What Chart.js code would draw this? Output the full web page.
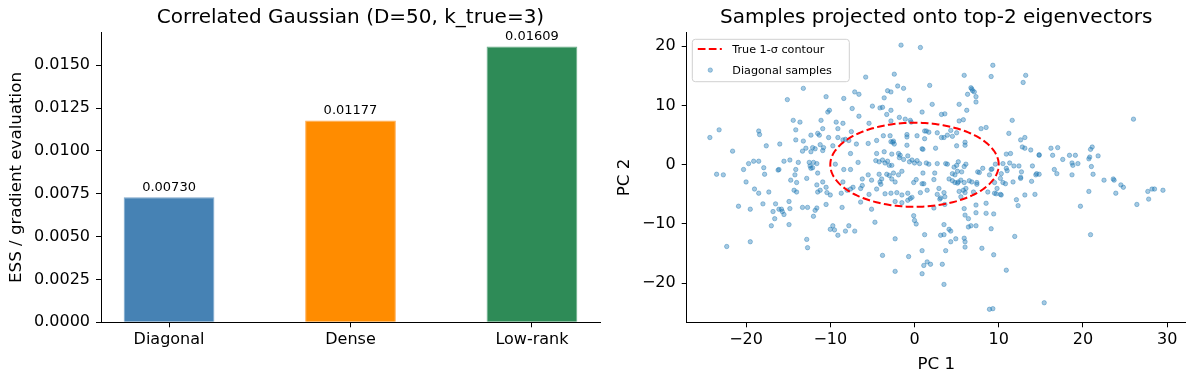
<!DOCTYPE html>
<html>
<head>
<meta charset="utf-8">
<script src="https://cdn.jsdelivr.net/npm/chart.js@4.4.0/dist/chart.umd.min.js"></script>
<style>
body { margin: 0; background: #fff; width: 1194px; height: 383px; overflow: hidden; position: relative; }
#essChart { position: absolute; left: 0; top: 0; }
#pcChart { position: absolute; left: 600px; top: 0; }
</style>
</head>
<body>
<canvas id="essChart" width="612" height="383"></canvas>
<canvas id="pcChart" width="594" height="383"></canvas>
<script>
// left panel
const methods = ['Diagonal', 'Dense', 'Low-rank'];
const essPerGrad = [0.00730, 0.01177, 0.01609];
const barColors = ['#4682b4', '#ff8c00', '#2e8b57'];
const barEdges = ['#7aa5cb', '#ffad55', '#68ad88'];
const essTicks = [0, 0.0025, 0.005, 0.0075, 0.01, 0.0125, 0.015];

// right panel: true 1-sigma radii along PC1 / PC2
const contourSigma = [10.0, 7.1];
// diagonal samples, [PC1, PC2]
const diagSamples = [
  [-1.6,20.2],[0.7,19.8],[9.3,16.8],[9.1,14.9],[5.9,15.1],[13.2,15.1],[12.9,13.9],[-2.4,15.3],[-5.8,14.8],[-13.2,12.9],
  [-2.0,13.3],[-1.3,12.9],[1.8,13.4],[-3.2,12.5],[-2.8,12.3],[-7.1,12.3],[-6.6,11.9],[6.8,12.8],[6.9,12.5],[6.7,13.0],
  [7.1,12.3],[6.3,11.9],[7.3,11.5],[-10.5,11.5],[-8.4,11.2],[-15.1,11.0],[-3.6,11.3],[-0.6,10.9],[5.3,10.2],[7.3,10.6],
  [2.1,10.2],[-5.0,9.9],[-4.1,9.6],[-3.8,9.7],[-7.4,9.5],[-10.3,8.9],[-10.1,9.2],[-2.8,9.2],[0.9,8.9],[6.2,9.2],
  [3.2,8.5],[3.6,8.6],[-3.3,8.5],[-6.6,8.2],[-1.8,8.0],[-1.1,7.7],[-0.5,7.5],[-0.4,7.2],[-14.4,7.5],[-13.6,7.2],
  [-11.1,7.5],[-9.3,7.2],[-8.5,7.0],[-5.4,7.0],[-2.8,7.4],[5.3,7.4],[5.8,7.6],[11.6,7.5],[26.0,7.7],[-23.2,5.9],
  [-24.3,4.6],[-18.5,5.7],[-18.4,5.1],[-14.1,5.9],[-10.9,6.1],[-9.1,6.1],[-7.5,5.6],[8.5,6.3],[7.9,6.1],[1.2,5.7],
  [1.4,5.7],[2.7,5.4],[4.3,5.8],[5.0,5.4],[-11.5,5.3],[-11.3,5.0],[-12.3,5.0],[-10.2,4.6],[-9.1,4.6],[-8.2,4.3],
  [-8.5,4.2],[-3.7,4.9],[-2.9,4.9],[-0.9,5.1],[-0.9,4.7],[0.3,4.9],[1.2,4.4],[1.7,5.5],[3.2,4.6],[3.5,4.6],
  [3.9,5.0],[4.5,4.8],[11.2,5.3],[13.1,4.6],[12.6,4.2],[-14.1,4.2],[-16.0,3.5],[-17.6,3.2],[-13.2,4.0],[-12.9,2.8],
  [-12.1,2.9],[-11.2,3.4],[-10.8,2.9],[-9.7,3.2],[-7.8,4.1],[-6.9,3.5],[-5.5,3.6],[-4.5,4.1],[-2.8,3.9],[-2.6,3.8],
  [-2.4,3.5],[-2.5,4.0],[-0.9,3.3],[2.5,2.8],[0.9,2.7],[1.0,2.6],[5.0,3.2],[6.0,3.8],[6.0,3.3],[12.8,3.0],
  [13.1,2.8],[13.8,2.5],[16.2,2.8],[17.0,2.9],[21.1,3.0],[20.9,2.6],[-21.6,2.3],[-13.3,2.3],[-11.8,2.7],[-10.9,2.4],
  [-12.3,2.2],[-7.6,1.9],[-4.5,1.9],[-3.6,2.2],[-2.7,1.8],[-1.9,1.9],[-1.7,1.6],[-0.8,1.5],[-1.8,1.2],[10.9,1.8],
  [11.4,1.9],[14.8,1.7],[14.8,1.6],[16.4,1.6],[18.4,1.6],[19.1,1.6],[21.8,1.5],[17.6,0.9],[20.7,1.0],[20.8,1.3],
  [-19.7,0.2],[-19.1,0.6],[-18.5,0.6],[-14.8,0.8],[-15.5,0.6],[-13.8,0.4],[-12.5,0.4],[-12.4,-0.2],[-12.0,0.4],[-11.6,0.2],
  [-9.4,0.1],[-6.7,0.4],[-4.6,0.7],[-4.2,0.5],[-3.8,0.8],[-3.5,0.3],[-3.2,0.6],[-1.3,0.9],[-0.6,0.5],[-0.3,0.8],
  [0.0,0.3],[0.3,0.7],[0.6,0.2],[1.4,0.3],[1.7,0.1],[2.7,0.2],[3.7,0.2],[3.9,0.1],[5.2,0.5],[9.6,0.1],
  [10.5,0.2],[11.3,0.3],[11.8,-0.2],[12.4,-0.2],[14.0,-0.2],[18.7,0.3],[18.8,-0.1],[19.4,0.2],[21.0,-0.3],[-20.3,-0.8],
  [-17.9,-0.5],[-16.2,-0.9],[-16.1,-0.8],[-14.1,-0.8],[-12.1,-0.5],[-12.3,-0.6],[-8.4,-0.8],[-3.0,-0.1],[-2.7,-0.1],[5.0,-0.1],
  [4.7,-0.4],[5.9,-0.3],[6.1,0.1],[8.1,-0.6],[9.1,-0.8],[9.2,-0.7],[10.9,-0.6],[11.0,-1.0],[16.6,-0.8],[-23.5,-1.6],
  [-22.7,-1.7],[-17.8,-1.6],[-14.2,-1.7],[-11.5,-1.4],[-7.6,-0.8],[-5.5,-1.7],[-4.2,-1.6],[-3.3,-1.6],[-3.0,-1.8],[-2.5,-1.4],
  [-1.5,-1.1],[-1.9,-1.7],[1.0,-1.4],[2.4,-1.4],[4.5,-1.5],[4.8,-1.7],[5.1,-1.1],[5.6,-1.2],[7.5,-1.2],[7.7,-1.3],
  [8.9,-1.7],[10.3,-1.5],[12.7,-1.2],[14.4,-1.7],[14.5,-1.5],[14.8,-1.6],[16.9,-1.5],[18.7,-1.7],[21.2,-1.6],[-14.7,-2.6],
  [-12.8,-2.3],[-10.9,-2.9],[-8.5,-2.9],[-6.2,-2.4],[-5.1,-2.6],[-3.9,-2.4],[-4.1,-2.9],[-2.7,-2.4],[-2.3,-2.9],[0.2,-2.5],
  [-0.1,-3.0],[0.9,-3.2],[1.1,-3.2],[2.3,-2.5],[4.1,-2.4],[4.5,-2.7],[4.8,-3.0],[5.1,-3.1],[5.2,-2.9],[5.5,-2.6],
  [5.9,-3.0],[6.5,-2.7],[6.8,-2.9],[7.4,-3.0],[7.4,-3.3],[10.2,-2.3],[9.5,-3.0],[10.5,-3.0],[10.8,-3.2],[11.7,-2.9],
  [12.6,-2.3],[12.6,-2.1],[13.9,-2.8],[22.5,-2.6],[23.7,-2.6],[23.6,-2.4],[24.5,-3.4],[24.8,-3.8],[-20.0,-2.9],[-14.0,-3.0],
  [-14.3,-4.3],[-14.0,-4.6],[-19.0,-4.1],[-18.5,-4.8],[-17.3,-4.6],[-11.6,-3.4],[-11.5,-4.6],[-11.2,-4.3],[-10.5,-3.8],[-10.4,-4.7],
  [-10.0,-5.1],[-8.0,-4.3],[-8.7,-4.8],[-7.6,-4.1],[-7.3,-3.8],[-6.4,-4.0],[-6.2,-3.5],[-5.4,-5.0],[-3.5,-4.9],[-2.8,-4.8],
  [-4.5,-4.1],[-4.0,-3.3],[-2.1,-4.7],[-1.5,-5.1],[-0.8,-4.8],[0.7,-4.7],[1.5,-4.3],[2.7,-5.0],[2.9,-4.0],[3.5,-4.7],
  [3.6,-5.4],[5.3,-4.5],[5.8,-4.3],[6.1,-4.0],[6.0,-4.7],[5.5,-5.4],[7.0,-4.6],[8.7,-4.6],[9.8,-4.0],[9.5,-4.8],
  [10.2,-5.0],[10.3,-5.1],[20.7,-4.5],[23.9,-4.8],[27.7,-4.5],[28.2,-4.1],[28.5,-4.1],[27.8,-5.8],[29.5,-4.3],[26.4,-6.7],
  [19.7,-7.0],[12.1,-5.9],[12.3,-6.9],[13.1,-5.1],[14.3,-5.0],[-20.9,-7.0],[-19.5,-7.5],[-18.0,-6.6],[-16.5,-6.6],[-16.1,-7.5],
  [-15.8,-7.5],[-15.7,-7.9],[-16.8,-7.9],[-16.6,-9.1],[-17.0,-10.3],[-14.9,-6.2],[-14.8,-7.4],[-15.5,-8.4],[-14.9,-10.1],[-13.3,-7.2],
  [-12.7,-7.2],[-12.0,-8.7],[-11.8,-7.7],[-11.6,-7.3],[-10.5,-6.7],[-8.6,-7.2],[-6.4,-6.3],[-5.1,-7.5],[-2.3,-6.2],[-1.5,-6.4],
  [-0.8,-6.0],[-0.5,-5.7],[-0.3,-5.5],[2.3,-7.3],[3.0,-5.8],[3.1,-5.6],[3.6,-6.7],[5.9,-7.4],[6.0,-8.5],[6.4,-9.1],
  [7.3,-6.8],[7.3,-8.1],[8.5,-6.5],[8.5,-8.2],[9.4,-8.3],[9.7,-4.9],[-12.8,-12.6],[-12.7,-14.0],[-19.5,-13.0],[-22.3,-13.8],
  [-10.0,-10.9],[-9.7,-10.3],[-9.5,-11.0],[-9.1,-11.9],[-8.2,-11.2],[-7.8,-10.3],[-7.1,-11.2],[-4.7,-9.7],[-2.3,-12.5],[-3.8,-15.3],
  [-2.3,-18.0],[-0.7,-15.5],[-0.1,-8.6],[0.0,-9.4],[0.2,-10.0],[0.9,-14.5],[1.2,-11.8],[0.9,-18.4],[1.1,-17.0],[1.5,-16.4],
  [1.9,-16.8],[3.1,-11.9],[3.5,-11.8],[3.5,-10.1],[4.1,-10.9],[4.3,-11.2],[4.9,-12.5],[4.3,-13.0],[3.3,-16.8],[3.5,-20.2],
  [3.7,-14.5],[5.9,-12.4],[6.0,-13.0],[6.0,-13.9],[6.4,-10.5],[6.7,-10.3],[7.3,-10.3],[8.0,-14.1],[9.1,-10.8],[9.4,-15.2],
  [8.9,-24.4],[9.3,-24.3],[10.9,-17.8],[11.9,-12.1],[15.4,-23.3],[20.9,-11.8]
];

const FONT = '"DejaVu Sans", sans-serif';
const minus = v => String(v).replace('-', '\u2212');

// title centred over the plot area, like matplotlib
const axTitle = {
  id: 'axTitle',
  afterDraw(chart, args, opts) {
    const ctx = chart.ctx, a = chart.chartArea;
    ctx.save();
    ctx.font = '20px ' + FONT;
    ctx.fillStyle = '#000';
    ctx.textAlign = 'center';
    ctx.textBaseline = 'middle';
    ctx.fillText(opts.text, (a.left + a.right) / 2, 18);
    ctx.restore();
  }
};

const barLabels = {
  id: 'barLabels',
  afterDatasetsDraw(chart) {
    const ctx = chart.ctx;
    ctx.save();
    ctx.font = '13px ' + FONT;
    ctx.fillStyle = '#000';
    ctx.textAlign = 'center';
    ctx.textBaseline = 'bottom';
    chart.getDatasetMeta(0).data.forEach((bar, i) => {
      ctx.fillText(essPerGrad[i].toFixed(5), bar.x, bar.y - 3);
    });
    ctx.restore();
  }
};

function axisStyle(extra) {
  return Object.assign({
    border: { display: true, color: '#000', width: 1 },
    grid: { drawOnChartArea: false, drawTicks: true, tickLength: 5, color: '#000', lineWidth: 1 },
    ticks: { color: '#000', font: { family: FONT, size: 16 }, includeBounds: false, autoSkip: false, maxRotation: 0 }
  }, extra);
}

// ---- bar chart ----
const essX = axisStyle({
  type: 'linear', min: -0.375, max: 2.375, offset: false,
  afterFit: s => { s.height = 60.7; },
  afterBuildTicks: s => { s.ticks = methods.map((m, i) => ({ value: i })); }
});
essX.grid.offset = false;
essX.ticks.padding = 3;
essX.ticks.callback = v => methods[v];

const essY = axisStyle({
  min: 0, max: 0.0169,
  afterFit: s => { s.width = 101; },
  afterBuildTicks: s => { s.ticks = essTicks.map(v => ({ value: v })); },
  title: { display: true, text: 'ESS / gradient evaluation', color: '#000',
           font: { family: FONT, size: 16.67 }, padding: { top: 7, bottom: 0 } }
});
essY.ticks.padding = 6;
essY.ticks.callback = v => v.toFixed(4);

new Chart(document.getElementById('essChart'), {
  type: 'bar',
  data: {
    datasets: [{
      data: methods.map((m, i) => ({ x: i, y: essPerGrad[i] })),
      backgroundColor: barColors,
      borderColor: barEdges,
      borderWidth: 1,
      categoryPercentage: 1,
      barPercentage: 0.5
    }]
  },
  options: {
    responsive: false,
    animation: false,
    layout: { padding: { top: 32.7, right: 12, left: 0, bottom: 0 } },
    scales: { x: essX, y: essY },
    plugins: {
      legend: { display: false },
      tooltip: { enabled: false },
      axTitle: { text: 'Correlated Gaussian (D=50, k_true=3)' }
    }
  },
  plugins: [axTitle, barLabels]
});

// ---- scatter ----
const contour = [];
for (let k = 0; k <= 200; k++) {
  const t = 2 * Math.PI * k / 200;
  contour.push({ x: contourSigma[0] * Math.cos(t), y: contourSigma[1] * Math.sin(t) });
}

const ptFill = 'rgba(31,119,180,0.4)';
const redDash = [7.7, 3.3];

const pcLegend = {
  id: 'pcLegend',
  afterDraw(chart) {
    const ctx = chart.ctx, a = chart.chartArea;
    const x0 = a.left + 5.6, y0 = a.top + 6.6, w = 157, h = 42.4, r = 3;
    ctx.save();
    ctx.beginPath();
    ctx.roundRect(x0, y0, w, h, r);
    ctx.fillStyle = 'rgba(255,255,255,0.8)';
    ctx.fill();
    ctx.strokeStyle = '#d0d0d0';
    ctx.lineWidth = 1;
    ctx.stroke();

    ctx.beginPath();
    ctx.setLineDash(redDash);
    ctx.strokeStyle = 'red';
    ctx.lineWidth = 2;
    ctx.moveTo(x0 + 5.5, y0 + 9.8);
    ctx.lineTo(x0 + 29.5, y0 + 9.8);
    ctx.stroke();
    ctx.setLineDash([]);

    ctx.beginPath();
    ctx.arc(x0 + 18, y0 + 30.8, 2.2, 0, 2 * Math.PI);
    ctx.fillStyle = ptFill;
    ctx.fill();
    ctx.strokeStyle = ptFill;
    ctx.lineWidth = 1;
    ctx.stroke();

    ctx.font = '11.2px ' + FONT;
    ctx.fillStyle = '#000';
    ctx.textBaseline = 'middle';
    ctx.fillText(chart.data.datasets[0].label, x0 + 40, y0 + 10.5);
    ctx.fillText(chart.data.datasets[1].label, x0 + 40, y0 + 31.5);
    ctx.restore();
  }
};

const pcX = axisStyle({
  type: 'linear', min: -27.05, max: 32.2,
  afterFit: s => { s.height = 60.7; },
  title: { display: true, text: 'PC 1', color: '#000',
           font: { family: FONT, size: 16.67 }, padding: { top: 0, bottom: 8 } }
});
pcX.ticks.stepSize = 10;
pcX.ticks.padding = 3;
pcX.ticks.callback = minus;

const pcY = axisStyle({
  min: -26.6, max: 22.3,
  afterFit: s => { s.width = 86.7; },
  title: { display: true, text: 'PC 2', color: '#000',
           font: { family: FONT, size: 16.67 }, padding: { top: 15, bottom: 0 } }
});
pcY.ticks.stepSize = 10;
pcY.ticks.padding = 6;
pcY.ticks.callback = minus;

new Chart(document.getElementById('pcChart'), {
  type: 'scatter',
  data: {
    datasets: [
      {
        label: 'True 1-\u03c3 contour',
        type: 'line',
        data: contour,
        showLine: true,
        borderColor: 'red',
        borderWidth: 2,
        borderDash: redDash,
        pointRadius: 0,
        fill: false,
        tension: 0,
        order: 0
      },
      {
        label: 'Diagonal samples',
        data: diagSamples.map(p => ({ x: p[0], y: p[1] })),
        backgroundColor: ptFill,
        borderColor: ptFill,
        borderWidth: 1,
        pointRadius: 2.2,
        order: 1
      }
    ]
  },
  options: {
    responsive: false,
    animation: false,
    layout: { padding: { top: 32.7, right: 8.3, left: 0, bottom: 0 } },
    scales: { x: pcX, y: pcY },
    plugins: {
      legend: { display: false },
      tooltip: { enabled: false },
      axTitle: { text: 'Samples projected onto top-2 eigenvectors' }
    }
  },
  plugins: [axTitle, pcLegend]
});
</script>
</body>
</html>
